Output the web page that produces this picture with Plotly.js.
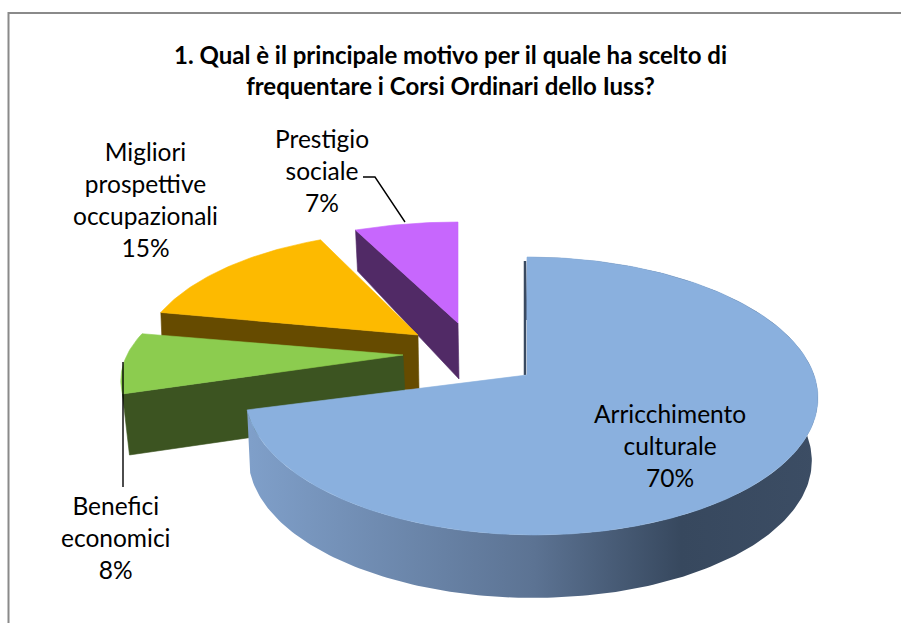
<!DOCTYPE html>
<html><head><meta charset="utf-8">
<script src="https://cdn.plot.ly/plotly-3.0.1.min.js"></script>
<style>html,body{margin:0;padding:0;background:#fff}#c{width:901px;height:623px}</style>
</head><body><div id="c"></div>
<script>
// ---- data ----
var categories = ["Arricchimento<br>culturale", "Benefici<br>economici", "Migliori<br>prospettive<br>occupazionali", "Prestigio<br>sociale"];
var percentages = [70, 8, 15, 7];
var chartTitle = "<b>1. Qual è il principale motivo per il quale ha scelto di<br>frequentare i Corsi Ordinari dello Iuss?</b>";

// ---- styling / projection of each exploded wedge ----
var topColors = ["#8ab0de", "#8ccc4f", "#fdba00", "#c767fd"];
var faceColors = ["#3a4a60", "#3c5421", "#664b00", "#512a66"];
var apexU = [527, 403, 418, 458];
var apexV = [375, 355, 335, 323];
var radiusU = [283, 276, 272, 286];
var radiusV = [135.8, 118, 125, 122];
var drift = [4, 0, 0, 0];
var perspective = [0.151, 0.208, 0.208, 0.208];
var sweepWarp = [1.0146, 1, 1, 1];
var rimDepth = [63, 61, 50, 41];
var apexDepth = [63, 60, 56, 56];
var labelU = [670, 115, 145, 322];
var labelV = [445, 537, 199, 170];
var fontName = "Lato, Carlito, Calibri, sans-serif";

function point(i, deg) {
  var t = deg * sweepWarp[i] * Math.PI / 180, s = Math.sin(t), c = Math.cos(t), d = 1 + perspective[i] * c;
  return [apexU[i] + radiusU[i] * s / d + drift[i] * (1 - c), apexV[i] - radiusV[i] * c / d];
}
function arc(i, a, b) {
  var out = [], n = Math.max(2, Math.ceil(Math.abs(b - a)));
  for (var k = 0; k <= n; k++) out.push(point(i, a + (b - a) * k / n));
  return out;
}
function poly(pts, color, grad) {
  var tr = {type: "scatter", mode: "lines", x: pts.map(function (p) { return p[0]; }), y: pts.map(function (p) { return p[1]; }),
    fill: "toself", line: {width: 0.6, color: color}, fillcolor: color, hoverinfo: "skip", showlegend: false};
  if (grad) { tr.fillgradient = grad; tr.line.width = 0; delete tr.fillcolor; }
  return tr;
}
var starts = [], acc = 0;
percentages.forEach(function (v) { starts.push(acc); acc += v * 3.6; });
var ends = starts.map(function (s, i) { return s + percentages[i] * 3.6; });
var traces = [];
// exploded wedges back to front: each shows its cut face then its top
[3, 2, 1].forEach(function (i) {
  var a = starts[i], b = ends[i];
  var apexLow = [apexU[i] + 1, apexV[i] + apexDepth[i]];
  var p = point(i, a), face;
  if (i === 1) {
    face = [p, [apexU[i], apexV[i]], [apexLow[0] + 2, apexLow[1]], [p[0] + 7, p[1] + rimDepth[i]]];
  } else {
    face = [p, [apexU[i], apexV[i]], apexLow, [p[0] + 2, p[1] + rimDepth[i]]];
  }
  traces.push(poly(face.concat([face[0]]), faceColors[i]));
  var top = [[apexU[i], apexV[i]]].concat(arc(i, a, b));
  traces.push(poly(top.concat([top[0]]), topColors[i]));
});
// main wedge: curved side under its top
var mainTop = arc(0, starts[0], ends[0]);
var lower = mainTop.map(function (p) { return [p[0] * 0.984 + 7, p[1] + rimDepth[0]]; });
var side = mainTop.concat(lower.slice().reverse());
side.push(side[0]);
traces.push(poly(side, faceColors[0], {type: "horizontal", start: 250, stop: 818,
  colorscale: [[0, "#7f9fc9"], [0.5, "#5c7393"], [0.76, "#37485e"], [1, "#3c4d64"]]}));
traces.push({type: "scatter", mode: "lines", x: [apexU[0] - 2, point(0, 0)[0] - 2], y: [apexV[0], point(0, 0)[1] + 4],
  line: {width: 2.5, color: faceColors[0]}, hoverinfo: "skip", showlegend: false});
var topPts = [[apexU[0], apexV[0]]].concat(mainTop);
traces.push(poly(topPts.concat([topPts[0]]), topColors[0]));

var annotations = categories.map(function (c, i) {
  return {x: labelU[i], y: labelV[i], xref: "x", yref: "y", text: c + "<br>" + percentages[i] + "%", showarrow: false,
    font: {family: fontName, size: 24.5, color: "#000"}, align: "center", xanchor: "center", yanchor: "middle"};
});
var layout = {
  width: 901, height: 623, margin: {l: 0, r: 0, t: 0, b: 0}, paper_bgcolor: "#fff", plot_bgcolor: "#fff", showlegend: false,
  title: {text: chartTitle, x: 0.5, xanchor: "center", y: 0.898, yanchor: "middle", font: {family: fontName, size: 24, color: "#000"}},
  xaxis: {range: [0, 901], visible: false, fixedrange: true},
  yaxis: {range: [623, 0], visible: false, fixedrange: true},
  annotations: annotations,
  shapes: [
    {type: "path", path: "M 8.5 623 L 8.5 13 L 901 13", line: {color: "#8a8a8a", width: 2}, layer: "below"},
    {type: "line", x0: 123, y0: 362, x1: 123, y1: 487, line: {color: "#000", width: 1.4}, layer: "above"},
    {type: "path", path: "M 363 177 L 375 177 L 405 222", line: {color: "#000", width: 1.4}, layer: "above"}
  ]
};
Plotly.newPlot("c", traces, layout, {displayModeBar: false, staticPlot: true});
</script></body></html>
